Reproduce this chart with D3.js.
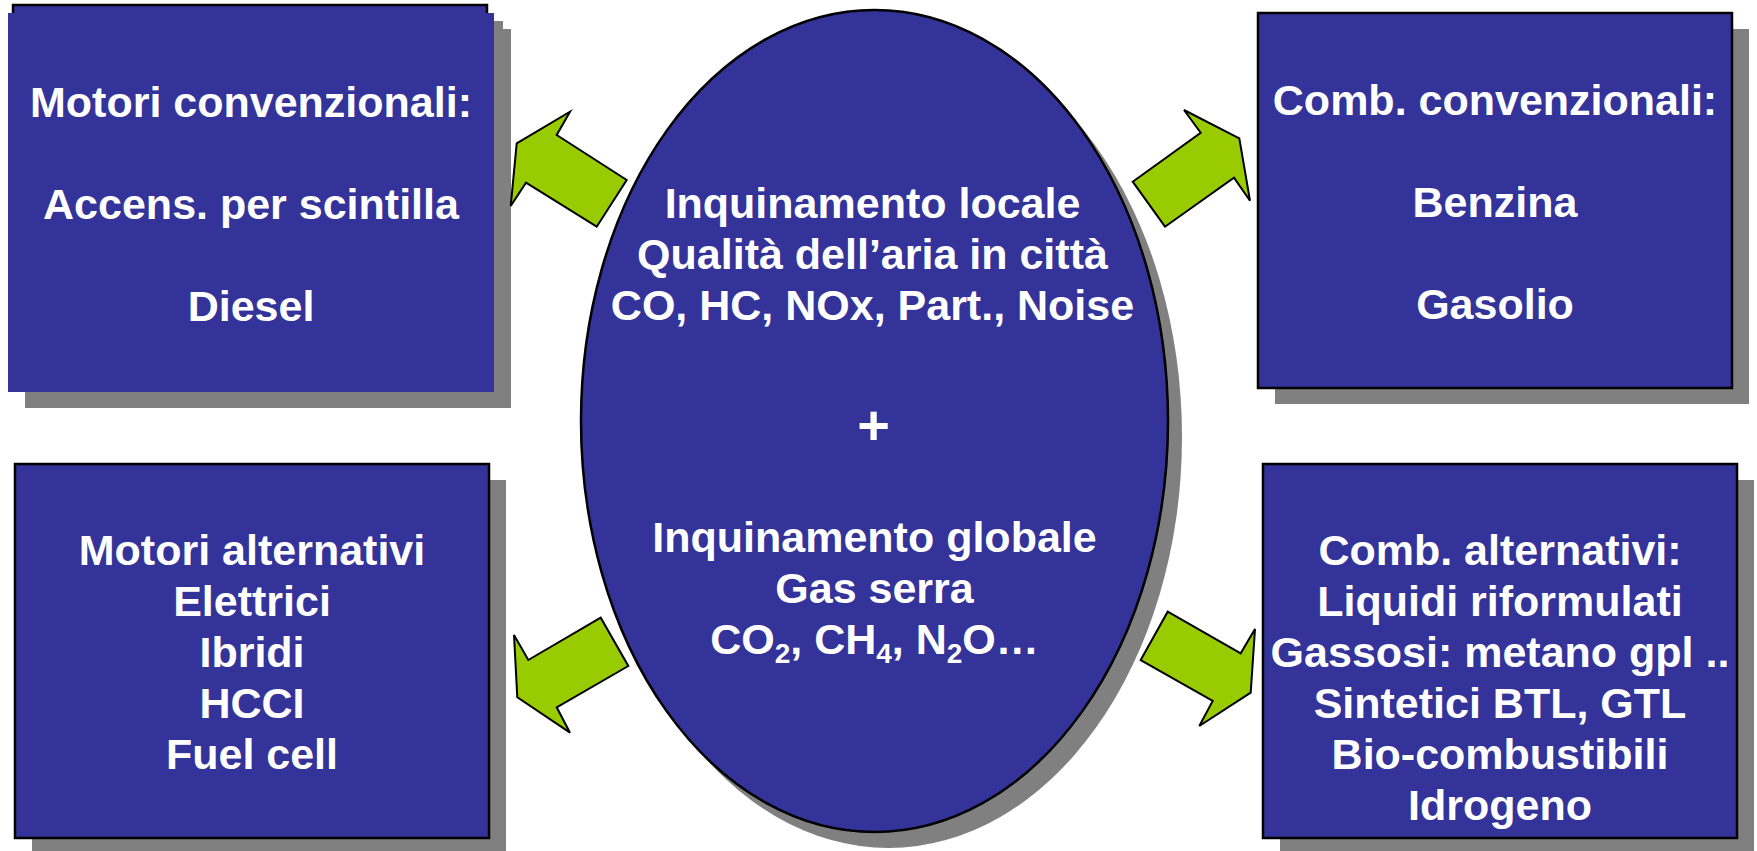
<!DOCTYPE html>
<html>
<head>
<meta charset="utf-8">
<script src="https://cdn.jsdelivr.net/npm/d3@7"></script>
<style>
  html, body { margin: 0; padding: 0; background: #fff; overflow: hidden; }
  svg text { font-family: "Liberation Sans", Arial, sans-serif; font-weight: bold; fill: #fff; }
</style>
</head>
<body>
<div id="svg"></div>
<script>
// texts of the diagram ("" = empty line, "_2" = subscript)
var motoriConv = ["Motori convenzionali:", "", "Accens. per scintilla", "", "Diesel"];
var combConv = ["Comb. convenzionali:", "", "Benzina", "", "Gasolio"];
var motoriAlt = ["Motori alternativi", "Elettrici", "Ibridi", "HCCI", "Fuel cell"];
var combAlt = ["Comb. alternativi:", "Liquidi riformulati", "Gassosi: metano gpl ..",
               "Sintetici BTL, GTL", "Bio-combustibili", "Idrogeno"];
var inqLocale = ["Inquinamento locale", "Qualità dell’aria in città", "CO, HC, NOx, Part., Noise"];
var plusSign = ["+"];
var inqGlobale = ["Inquinamento globale", "Gas serra", "CO_2, CH_4, N_2O…"];

var width = 1757;
var height = 851;

var blue = "#333399";
var shadow = "#808080";
var green = "#99cc00";
var fontSize = 43;
var lineStep = 51;

var svg = d3.select("#svg").append("svg")
  .attr("width", width)
  .attr("height", height);

// layout of the four boxes
var boxes = [
  {x: 8, y: 13, w: 486, h: 379, lines: motoriConv, top: 116.7, stroke: false},
  {x: 1258, y: 13, w: 474, h: 375, lines: combConv, top: 114.5, stroke: true},
  {x: 15, y: 464, w: 474, h: 374, lines: motoriAlt, top: 565, stroke: true},
  {x: 1263, y: 464, w: 474, h: 374, lines: combAlt, top: 565, stroke: true}
];

// ellipse
var ell = {cx: 874.5, cy: 421, rx: 293.5, ry: 411};

// arrow outlines
var arrows = [
  [[510.7,206],[516.7,143.3],[570,111.7],[556.7,135],[626.7,180],[596.7,226.7],[526,182.7]],
  [[1132.7,181.7],[1200.7,132.7],[1184,110],[1239.3,138.3],[1250,200.7],[1234,177.7],[1165,226.7]],
  [[514,635],[528.3,660],[600.7,617.7],[628.3,666],[556.7,707.3],[570,732.7],[517.3,697.3]],
  [[1140.7,660],[1167.7,611.7],[1240.7,653.3],[1255,629],[1250.7,692.7],[1199.3,726],[1212.7,701]]
];

function writeLines(g, lines, cx, top, size) {
  size = size || fontSize;
  g.selectAll(null)
    .data(lines.filter(function(d) { return d !== ""; }))
    .enter().append("text")
    .attr("x", cx)
    .attr("y", function(d) { return top + lines.indexOf(d) * lineStep; })
    .attr("text-anchor", "middle")
    .style("font-size", size + "px")
    .each(function(d) {
      var t = d3.select(this);
      var shift = 0;
      d.split(/(_\d)/).forEach(function(p) {
        if (p === "") return;
        if (p[0] === "_") {
          t.append("tspan").text(p.slice(1))
            .attr("dy", 9 - shift).style("font-size", "28px");
          shift = 9;
        } else {
          t.append("tspan").text(p).attr("dy", -shift);
          shift = 0;
        }
      });
    });
}

// box shadows
var gBoxes = svg.append("g");
// first box has its outline slipped behind the fill
gBoxes.append("rect")
  .attr("x", 13 + 16).attr("y", 5 + 16).attr("width", 474).attr("height", 379)
  .attr("fill", shadow);
gBoxes.selectAll(".shadow")
  .data(boxes)
  .enter().append("rect")
  .attr("class", "shadow")
  .attr("x", function(d) { return d.x + 17; })
  .attr("y", function(d) { return d.y + 16; })
  .attr("width", function(d) { return d.w; })
  .attr("height", function(d) { return d.h; })
  .attr("fill", shadow);
gBoxes.append("rect")
  .attr("x", 13).attr("y", 5).attr("width", 474).attr("height", 379)
  .attr("fill", blue).attr("stroke", "#000").attr("stroke-width", 2.5);
gBoxes.selectAll(".box")
  .data(boxes)
  .enter().append("rect")
  .attr("class", "box")
  .attr("x", function(d) { return d.x; })
  .attr("y", function(d) { return d.y; })
  .attr("width", function(d) { return d.w; })
  .attr("height", function(d) { return d.h; })
  .attr("fill", blue)
  .attr("stroke", function(d) { return d.stroke ? "#000" : "none"; })
  .attr("stroke-width", 2.5);

boxes.forEach(function(b) {
  writeLines(svg.append("g"), b.lines, b.x + b.w / 2, b.top);
});

// ellipse with shadow
svg.append("ellipse")
  .attr("cx", ell.cx + 14).attr("cy", ell.cy + 16)
  .attr("rx", ell.rx).attr("ry", ell.ry)
  .attr("fill", shadow);
svg.append("ellipse")
  .attr("cx", ell.cx).attr("cy", ell.cy)
  .attr("rx", ell.rx).attr("ry", ell.ry)
  .attr("fill", blue).attr("stroke", "#000").attr("stroke-width", 2.5);

writeLines(svg.append("g"), inqLocale, ell.cx - 2, 218);
writeLines(svg.append("g"), plusSign, ell.cx - 1, 444, 56);
writeLines(svg.append("g"), inqGlobale, ell.cx, 552);

// arrows
var line = d3.line().curve(d3.curveLinearClosed);
svg.append("g").selectAll("path")
  .data(arrows)
  .enter().append("path")
  .attr("d", line)
  .attr("fill", green)
  .attr("stroke", "#000")
  .attr("stroke-width", 2)
  .attr("stroke-linejoin", "miter");
</script>
</body>
</html>
